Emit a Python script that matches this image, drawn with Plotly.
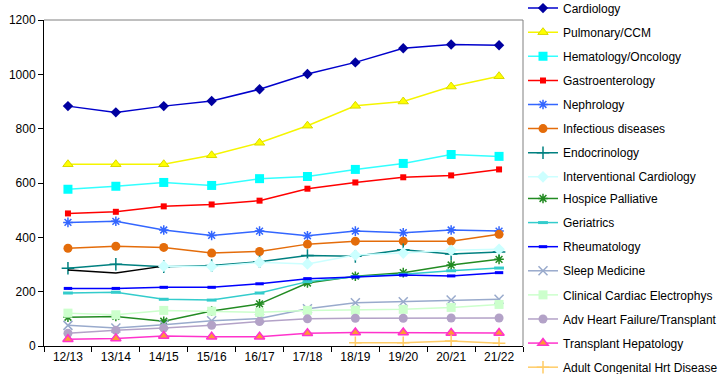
import plotly.graph_objects as go

years = ["12/13", "13/14", "14/15", "15/16", "16/17", "17/18", "18/19", "19/20", "20/21", "21/22"]

cardiology = [883, 860, 883, 902, 945, 1001, 1044, 1096, 1110, 1107]
pulmonary = [669, 669, 669, 702, 748, 811, 884, 900, 955, 993]
hematology = [577, 588, 602, 591, 616, 624, 650, 672, 705, 698]
gastro = [488, 494, 514, 521, 535, 579, 602, 621, 628, 650]
nephrology = [455, 459, 427, 407, 423, 406, 423, 417, 427, 423]
infectious = [360, 367, 363, 342, 348, 375, 386, 386, 386, 411]
endocrinology = [286, 301, 292, 296, 310, 333, 330, 354, 339, 346]
interventional = [280, 269, 294, 293, 308, 302, 335, 342, 352, 356]
hospice = [106, 109, 91, 129, 155, 232, 257, 270, 298, 319]
geriatrics = [195, 198, 172, 169, 195, 237, 255, 264, 277, 287]
rheumatology = [212, 212, 216, 216, 229, 248, 254, 261, 258, 270]
sleep = [76, 66, 78, 93, 101, 137, 159, 163, 169, 172]
cce = [121, 115, 131, 128, 124, 131, 132, 135, 142, 153]
advhf = [47, 58, 66, 76, 90, 100, 102, 102, 103, 103]
transplant_hep = [25, 28, 37, 34, 34, 47, 50, 50, 48, 48]
adult_congenital = [None, None, None, None, None, None, 12, 12, 18, 10]

series = [
    ("Cardiology", cardiology, "#0000CC", dict(symbol="diamond", size=8, color="#0000A0")),
    ("Pulmonary/CCM", pulmonary, "#F5F500", dict(symbol="triangle-up", size=9, color="#FFFF00", line=dict(color="#D9D900", width=1))),
    ("Hematology/Oncology", hematology, "#33FFFF", dict(symbol="square", size=9, color="#00FFFF")),
    ("Gastroenterology", gastro, "#FF0000", dict(symbol="square", size=6, color="#FF0000")),
    ("Nephrology", nephrology, "#3366FF", dict(symbol="asterisk-open", size=8, line=dict(color="#3366FF", width=1.5))),
    ("Infectious diseases", infectious, "#E46C0A", dict(symbol="circle", size=9, color="#E46C0A")),
    ("Endocrinology", endocrinology, "#008080", dict(symbol="cross-thin-open", size=9, line=dict(color="#008080", width=1.5))),
    ("Interventional Cardiology", interventional, "#CCFFFF", dict(symbol="diamond", size=9, color="#CCFFFF")),
    ("Hospice Palliative", hospice, "#228B22", dict(symbol="asterisk-open", size=8, line=dict(color="#008000", width=1.5))),
    ("Geriatrics", geriatrics, "#33CCCC", dict(symbol="line-ew-open", size=7, line=dict(color="#33CCCC", width=3))),
    ("Rheumatology", rheumatology, "#0000FF", dict(symbol="line-ew-open", size=6, line=dict(color="#0000FF", width=3))),
    ("Sleep Medicine", sleep, "#99AACC", dict(symbol="x-thin-open", size=9, line=dict(color="#99AACC", width=1.5))),
    ("Clinical Cardiac Electrophys", cce, "#CCFFCC", dict(symbol="square", size=9, color="#CCFFCC")),
    ("Adv Heart Failure/Transplant", advhf, "#B3A2C7", dict(symbol="circle", size=9, color="#B3A2C7")),
    ("Transplant Hepatology", transplant_hep, "#FF33CC", dict(symbol="triangle-up", size=9, color="#FF9933", line=dict(color="#FF33CC", width=1.5))),
    ("Adult Congenital Hrt Disease", adult_congenital, "#FFCC66", dict(symbol="cross-thin-open", size=9, line=dict(color="#FFCC66", width=1.5))),
]

fig = go.Figure()
for i, (name, vals, lc, mk) in enumerate(series):
    leg = "legend" if i < 8 else "legend2"
    if name == "Interventional Cardiology":
        # early segment drawn in black without markers
        fig.add_trace(go.Scatter(x=years[:3], y=vals[:3], mode="lines", line=dict(color="#000000", width=1.5),
                                 showlegend=False, hoverinfo="skip"))
        vals = [None, None] + vals[2:]
    fig.add_trace(go.Scatter(x=years, y=vals, name=name, mode="lines+markers",
                             line=dict(color=lc, width=1.5), marker=mk, legendgroup=name,
                             legend=leg, connectgaps=False))

legend_common = dict(x=1.0, xanchor="left", yanchor="top", font=dict(size=12),
                     tracegroupgap=5.1, bgcolor="rgba(0,0,0,0)", itemwidth=30, maxheight=600)

fig.update_layout(
    width=719, height=374,
    margin=dict(l=44, r=196, t=20, b=28, autoexpand=False),
    paper_bgcolor="white", plot_bgcolor="white",
    font=dict(family="Liberation Sans, Arial, sans-serif", size=12, color="#000000"),
    showlegend=True,
    legend=dict(y=1.081, **legend_common),
    legend2=dict(y=0.497, **legend_common),
    xaxis=dict(type="category", showline=True, linecolor="#000000", linewidth=1,
               ticks="outside", ticklen=5, tickcolor="#000000", tickson="boundaries",
               showgrid=False, zeroline=False, range=[-0.5, 9.5]),
    yaxis=dict(range=[0, 1200], dtick=200, showline=True, linecolor="#000000", linewidth=1,
               ticks="outside", ticklen=5, tickcolor="#000000", showgrid=False, zeroline=False),
    shapes=[
        dict(type="line", xref="paper", yref="paper", x0=0, x1=1, y0=1, y1=1, line=dict(color="#808080", width=1)),
        dict(type="line", xref="paper", yref="paper", x0=1, x1=1, y0=0, y1=1, line=dict(color="#808080", width=1)),
    ],
)

fig.write_html("out.html", config={"displayModeBar": False},
               post_script="document.body.style.margin='0';document.body.style.padding='0';document.body.style.overflow='hidden';")
